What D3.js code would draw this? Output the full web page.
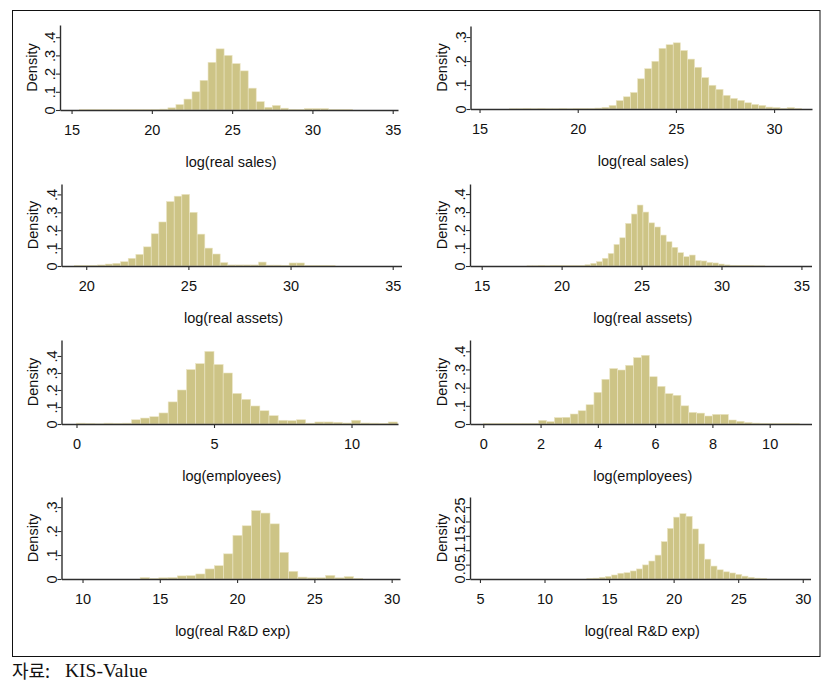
<!DOCTYPE html>
<html><head><meta charset="utf-8">
<script src="https://cdn.jsdelivr.net/npm/d3@7"></script>
<style>body{margin:0;background:#fff}svg{display:block}</style>
</head><body>
<script>
// ---------------- data ----------------
const xTitles = ["log(real sales)", "log(real sales)", "log(real assets)", "log(real assets)",
                 "log(employees)", "log(employees)", "log(real R&D exp)", "log(real R&D exp)"];
const yTitle = "Density";

// histogram bins: first bin left edge, bin width, densities
const salesL_start = 15.5, salesL_width = 0.5;
const salesL_density = [0.002,0.003,0.002,0.003,0.002,0.002,0.002,0.002,0.002,0.003,0.005,0.012,0.03,0.06,0.10,0.163,0.262,0.336,0.30,0.255,0.215,0.12,0.046,0.015,0.025,0.01,0.004,0.003,0.008,0.008,0.008,0.003,0.003,0.002];

const salesR_start = 15.07, salesR_width = 0.3627;
const salesR_density = [0,0,0,0,0.001,0.001,0.002,0.001,0.002,0.001,0.001,0.002,0.001,0.002,0.002,0.002,0.004,0.007,0.015,0.035,0.051,0.069,0.126,0.168,0.199,0.253,0.268,0.276,0.244,0.208,0.174,0.131,0.099,0.082,0.057,0.044,0.036,0.026,0.019,0.015,0.008,0.006,0.003,0.006,0.002];

const assetsL_start = 19.43, assetsL_width = 0.375;
const assetsL_density = [0.003,0.003,0.004,0.006,0.011,0.015,0.024,0.043,0.065,0.107,0.18,0.246,0.36,0.39,0.40,0.30,0.178,0.10,0.067,0.019,0.006,0.006,0.006,0.006,0.022,0.005,0.005,0.004,0.017,0.017,0.003,0.003,0.003,0.002];

const assetsR_start = 17.83, assetsR_width = 0.363;
const assetsR_density = [0.001,0.001,0.002,0.001,0.002,0.002,0.002,0.002,0.002,0.003,0.007,0.015,0.024,0.043,0.07,0.12,0.157,0.237,0.289,0.339,0.30,0.24,0.217,0.172,0.135,0.104,0.074,0.052,0.061,0.03,0.028,0.02,0.017,0.011,0.006,0.004,0.003,0.002,0.002,0.001,0.001];

const emplL_start = 0, emplL_width = 1/3;
const emplL_density = [0.005,0.003,0.001,0.005,0.004,0.005,0.025,0.035,0.043,0.065,0.13,0.20,0.32,0.355,0.427,0.35,0.30,0.18,0.145,0.106,0.078,0.049,0.022,0.02,0.025,0.005,0.012,0.012,0.01,0.006,0.022,0.006,0.005,0.004,0.012];

const emplR_start = 0, emplR_width = 0.276;
const emplR_density = [0.003,0.002,0.003,0.003,0.002,0.003,0.004,0.02,0.013,0.035,0.037,0.055,0.073,0.106,0.174,0.246,0.305,0.297,0.323,0.365,0.378,0.26,0.207,0.167,0.158,0.10,0.064,0.06,0.044,0.053,0.053,0.022,0.015,0.008,0.005,0.004,0.003,0.002,0.002,0.002];

const rdL_start = 13.73, rdL_width = 0.6;
const rdL_density = [0.006,0.002,0.005,0.006,0.013,0.014,0.021,0.042,0.0555,0.105,0.182,0.222,0.285,0.275,0.23,0.111,0.032,0.008,0.005,0.005,0.015,0.005,0.01,0.002];

const rdR_start = 13.28, rdR_width = 0.48;
const rdR_density = [0.002,0.003,0.006,0.009,0.014,0.02,0.022,0.028,0.035,0.049,0.0625,0.083,0.13,0.176,0.215,0.227,0.218,0.174,0.122,0.069,0.045,0.032,0.025,0.021,0.016,0.01,0.006,0.003,0.002];

// tick values
const xTicks_salesL = [15,20,25,30,35];
const xTicks_salesR = [15,20,25,30];
const xTicks_assetsL = [20,25,30,35];
const xTicks_assetsR = [15,20,25,30,35];
const xTicks_emplL = [0,5,10];
const xTicks_emplR = [0,2,4,6,8,10];
const xTicks_rdL = [10,15,20,25,30];
const xTicks_rdR = [5,10,15,20,25,30];
const yTicks_04 = [0,0.1,0.2,0.3,0.4];
const yTicks_03 = [0,0.1,0.2,0.3];
const yTicks_025 = [0,0.05,0.1,0.15,0.2,0.25];

const sourceLabel = "자료:";
const sourceName = "KIS-Value";

// ---------------- layout (pixels) ----------------
const layout = [
  {x0:60,   x1:398,   y0:25,  y1:110, xd:[14.28,35.33], yMax:0.467},
  {x0:470.5,x1:812,   y0:26,  y1:109, xd:[14.54,31.93], yMax:0.346},
  {x0:61.5, x1:401.5, y0:184, y1:266, xd:[18.79,35.43], yMax:0.458},
  {x0:470,  x1:811.5, y0:184, y1:266, xd:[14.27,35.63], yMax:0.456},
  {x0:61.5, x1:398,   y0:340, y1:424, xd:[-0.545,11.69], yMax:0.494},
  {x0:470,  x1:811.5, y0:340, y1:424, xd:[-0.464,11.46], yMax:0.462},
  {x0:61.5, x1:400,   y0:497, y1:579, xd:[8.64,30.54], yMax:0.342},
  {x0:470,  x1:810.5, y0:497, y1:579, xd:[4.23,30.6], yMax:0.285}
];

const panels = [
  {start:salesL_start, width:salesL_width, dens:salesL_density, xt:xTicks_salesL, yt:yTicks_04},
  {start:salesR_start, width:salesR_width, dens:salesR_density, xt:xTicks_salesR, yt:yTicks_03},
  {start:assetsL_start, width:assetsL_width, dens:assetsL_density, xt:xTicks_assetsL, yt:yTicks_04},
  {start:assetsR_start, width:assetsR_width, dens:assetsR_density, xt:xTicks_assetsR, yt:yTicks_04},
  {start:emplL_start, width:emplL_width, dens:emplL_density, xt:xTicks_emplL, yt:yTicks_04},
  {start:emplR_start, width:emplR_width, dens:emplR_density, xt:xTicks_emplR, yt:yTicks_04},
  {start:rdL_start, width:rdL_width, dens:rdL_density, xt:xTicks_rdL, yt:yTicks_03},
  {start:rdR_start, width:rdR_width, dens:rdR_density, xt:xTicks_rdR, yt:yTicks_025}
];

// ---------------- drawing ----------------
const W = 832, H = 697;
const FONT = "'Liberation Sans', Arial, Helvetica, sans-serif";
const FS = 14.5;
const AXIS = "#2e2e2e";
const BAR = "#cdc486";
const svg = d3.select("body").append("svg").attr("width", W).attr("height", H);
svg.append("rect").attr("width", W).attr("height", H).attr("fill", "#fff");

svg.append("rect").attr("x", 12.5).attr("y", 10.5).attr("width", 807.5).attr("height", 646)
  .attr("fill", "none").attr("stroke", "#111").attr("stroke-width", 1);

const yfmt = v => v === 0 ? "0" : String(v).replace(/^0\./, ".");

panels.forEach((p, k) => {
  const L = layout[k];
  const xs = d3.scaleLinear().domain(L.xd).range([L.x0, L.x1]);
  const ys = d3.scaleLinear().domain([0, L.yMax]).range([L.y1, L.y0]);
  const g = svg.append("g");

  g.selectAll("rect.bar").data(p.dens).join("rect").attr("class", "bar")
    .attr("x", (d, i) => xs(p.start + i * p.width))
    .attr("width", (d, i) => xs(p.start + (i + 1) * p.width) - xs(p.start + i * p.width))
    .attr("y", d => ys(d))
    .attr("height", d => ys(0) - ys(d))
    .attr("fill", BAR).attr("stroke", "#ebe5c4").attr("stroke-width", 0.6);

  const xa = g.append("g").attr("transform", `translate(0,${L.y1})`)
    .call(d3.axisBottom(xs).tickValues(p.xt).tickSize(4).tickSizeOuter(0).tickFormat(d3.format("d")));
  xa.selectAll("text").attr("y", 25).attr("dy", null)
    .attr("font-family", FONT).attr("font-size", FS).attr("fill", "#111");

  const ya = g.append("g").attr("transform", `translate(${L.x0},0)`)
    .call(d3.axisLeft(ys).tickValues(p.yt).tickSize(4).tickSizeOuter(0).tickFormat(yfmt));
  ya.selectAll("text").attr("x", null).attr("dy", null)
    .attr("transform", "translate(-5,0) rotate(-90)").attr("text-anchor", "middle")
    .attr("font-family", FONT).attr("font-size", FS).attr("fill", "#111");

  [xa, ya].forEach(a => {
    a.attr("color", AXIS);
    a.select(".domain").attr("stroke-width", 1.4);
    a.selectAll(".tick line").attr("stroke-width", 1.1);
  });

  g.append("text")
    .attr("transform", `translate(${L.x0 - 23.5},${(L.y0 + L.y1) / 2}) rotate(-90)`)
    .attr("text-anchor", "middle").attr("font-family", FONT).attr("font-size", FS).attr("fill", "#111")
    .text(yTitle);

  g.append("text")
    .attr("x", (L.x0 + L.x1) / 2 + 2).attr("y", L.y1 + 57)
    .attr("text-anchor", "middle").attr("font-family", FONT).attr("font-size", FS).attr("fill", "#111")
    .text(xTitles[k]);
});

svg.append("text").attr("x", 12).attr("y", 678)
  .attr("font-family", "'Noto Sans CJK KR', sans-serif").attr("font-size", 18).attr("fill", "#111")
  .text(sourceLabel);
svg.append("text").attr("x", 65).attr("y", 677)
  .attr("font-family", "'Liberation Serif', 'Times New Roman', serif").attr("font-size", 19.5).attr("fill", "#111")
  .text(sourceName);
</script>
</body></html>
